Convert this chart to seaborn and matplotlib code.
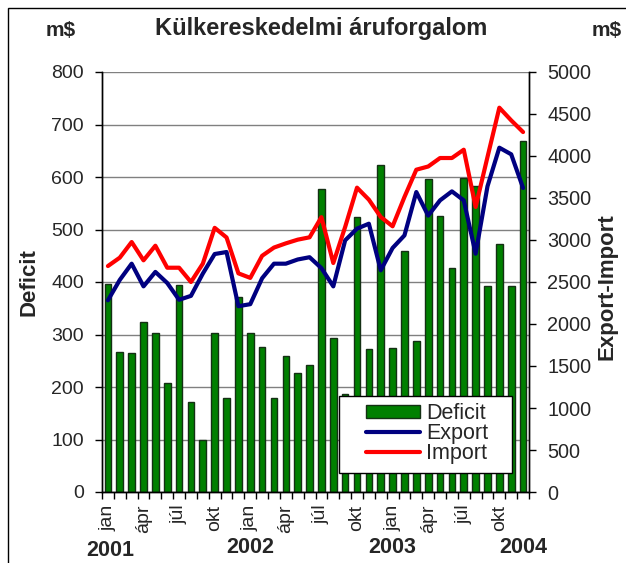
import numpy as np
import pandas as pd
import matplotlib
matplotlib.use("Agg")
import matplotlib.pyplot as plt
import seaborn as sns
from matplotlib.lines import Line2D
from matplotlib.patches import Patch, Rectangle
from matplotlib.transforms import blended_transform_factory

# monthly data, jan 2001 - dec 2003 (m$)
months = ["jan", "feb", "már", "ápr", "máj", "jún", "júl", "aug", "szep", "okt", "nov", "dec"] * 3
years = ["2001", "2002", "2003", "2004"]
deficit = [397, 267, 264, 324, 302, 207, 394, 172, 100, 302, 180, 371,
           302, 276, 180, 260, 226, 241, 577, 294, 187, 524, 272, 623,
           275, 459, 287, 597, 526, 427, 599, 583, 393, 473, 393, 668]
export = [2282, 2525, 2718, 2448, 2620, 2488, 2288, 2335, 2600, 2833, 2857, 2212,
          2236, 2545, 2718, 2718, 2768, 2795, 2665, 2448, 2996, 3135, 3194, 2639,
          2905, 3055, 3571, 3290, 3472, 3579, 3472, 2837, 3639, 4099, 4020, 3619]
imports = [2690, 2790, 2976, 2758, 2932, 2670, 2670, 2500, 2718, 3145, 3030, 2603,
           2549, 2812, 2910, 2960, 3004, 3032, 3272, 2726, 3155, 3623, 3480, 3274,
           3163, 3512, 3837, 3875, 3976, 3976, 4075, 3393, 3988, 4575, 4424, 4285]

df = pd.DataFrame({"idx": range(len(deficit)), "Deficit": deficit,
                   "Export": export, "Import": imports})

sns.set_theme(style="white")
plt.rcParams["font.family"] = ["Liberation Sans", "DejaVu Sans"]

W, H = 626, 563
fig = plt.figure(figsize=(W / 100, H / 100), dpi=100)
ax = fig.add_axes([102 / W, 1 - 492 / H, 427 / W, 420 / H])

# bars: deficit on the left axis
sns.barplot(data=df, x="idx", y="Deficit", color="#008000", saturation=1,
            width=0.56, edgecolor="#143014", linewidth=1, ax=ax)

# lines: export / import on the right axis
ax2 = ax.twinx()
sns.lineplot(data=df, x="idx", y="Export", color="#000080", lw=3, ax=ax2)
sns.lineplot(data=df, x="idx", y="Import", color="#ff0000", lw=3, ax=ax2)

ax.set_xlim(-0.5, len(deficit) - 0.5)
ax.set_ylim(0, 800)
ax2.set_ylim(0, 5000)
ax.set_yticks(np.arange(0, 801, 100))
ax2.set_yticks(np.arange(0, 5001, 500))
ax.yaxis.grid(True, color="#808080", lw=1)
ax.set_axisbelow(True)

# month labels every quarter, ticks at month boundaries
pos = np.arange(0, len(deficit), 3)
ax.set_xticks(pos)
ax.set_xticklabels([months[i] for i in pos], rotation=90, fontsize=14)
ax.set_xticks(np.arange(-0.5, len(deficit), 1), minor=True)
ax.tick_params(axis="x", which="major", length=0, pad=9)
ax.tick_params(axis="x", which="minor", length=5, width=1, color="black", bottom=True)
ax.tick_params(axis="y", length=5, width=1, color="black", left=True, labelsize=14, pad=8)
ax2.tick_params(axis="y", length=5, width=1, color="black", right=True, labelsize=14.3, pad=8)

for a in (ax, ax2):
    for side in ("left", "right", "bottom"):
        a.spines[side].set_color("black")
        a.spines[side].set_linewidth(1)
    a.spines["top"].set_visible(False)

ax.set_xlabel("")
ax.set_ylabel("Deficit", fontsize=16, fontweight="bold")
ax.yaxis.set_label_coords(-0.146, 0.5)
ax2.set_ylabel("Export-Import", fontsize=16, fontweight="bold", rotation=90)
ax2.yaxis.set_label_coords(1.158, 0.488)

# year labels under the months
trans = blended_transform_factory(ax.transData, ax.transAxes)
for yr, xpos, ypos in zip(years, [0.2, 12, 24, 35], [-0.139, -0.131, -0.131, -0.131]):
    ax.text(xpos, ypos, yr, transform=trans, ha="center", va="center",
            fontsize=15.5, fontweight="bold")

fig.text(321 / W, 1 - 29 / H, "Külkereskedelmi áruforgalom", ha="center", va="center",
         fontsize=17, fontweight="bold")
fig.text(61 / W, 1 - 30 / H, "m$", ha="center", va="center", fontsize=15, fontweight="bold")
fig.text(607 / W, 1 - 30 / H, "m$", ha="center", va="center", fontsize=15, fontweight="bold")

# legend: white box drawn separately, entries on top of it
ax2.add_patch(Rectangle(((339 - 102) / 427, (492 - 473) / 420), 173 / 427, 77 / 420,
                        transform=ax2.transAxes, facecolor="white", edgecolor="black",
                        lw=1, zorder=4))
handles = [Patch(facecolor="#008000", edgecolor="#143014"),
           Line2D([], [], color="#000080", lw=3),
           Line2D([], [], color="#ff0000", lw=3)]
leg = ax2.legend(handles, ["Deficit", "Export", "Import"], loc="upper left",
                 bbox_to_anchor=((366 - 102) / 427, (492 - 403) / 420),
                 fontsize=15.5, frameon=False, borderpad=0, borderaxespad=0,
                 labelspacing=-0.05, handlelength=2.5, handleheight=0.6,
                 handletextpad=0.3)
leg.set_zorder(5)

# outer frame of the chart
fig.patches.append(Rectangle((8 / W, -0.05), 1.0, 1.05 - 8 / H, transform=fig.transFigure,
                             fill=False, edgecolor="black", lw=1))

fig.savefig("out.png", dpi=100)
